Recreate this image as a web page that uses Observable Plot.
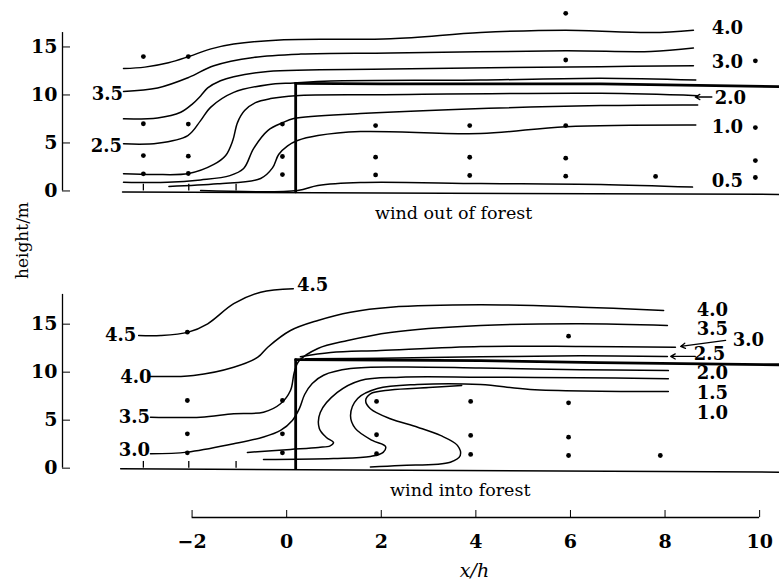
<!DOCTYPE html>
<html><head><meta charset="utf-8">
<script src="https://cdn.jsdelivr.net/npm/d3@7"></script>
<script src="https://cdn.jsdelivr.net/npm/@observablehq/plot@0.6"></script>
<style>body{margin:0;background:#fff}</style>
</head><body><div id="chart"></div>
<script>
// ---- panels, axes ----
const panels = ["out", "into"];
const panelTitles = ["wind out of forest", "wind into forest"];
const titleX = [3.53, 3.67];
const titleY = [-2.34, -2.32];
const yTicks = [0, 5, 10, 15];
const xTicks = [-2, 0, 2, 4, 6, 8, 10];
const xDomain = [-4.74, 10.42];
const yDomain = [-5.14, 19.84];
const yAxisTop = [16.5, 18.1];          // top of the y-axis line, per panel
const groundTickX = [-3.03, -2.07, -1.07];

// ---- wind out of forest: contours (x/h, height m) ----
const out40 = [[-3.45,12.75],[-3.0,12.9],[-2.5,13.35],[-2.07,14.0],[-1.6,14.8],[-1.12,15.3],[-0.06,15.75],[2.2,15.85],[4.1,16.5],[5.9,16.75],[7.7,16.5],[8.6,16.75]];
const out35 = [[-3.45,10.37],[-2.73,10.73],[-2.07,11.83],[-1.54,13.05],[-0.70,13.91],[0.30,14.26],[2.20,14.37],[5.90,14.6],[7.70,14.53],[8.60,14.89]];
const out30 = [[-3.45,7.51],[-2.73,7.61],[-2.24,8.2],[-1.99,9.07],[-1.82,9.9],[-1.67,10.73],[-1.40,11.48],[-1.12,11.9],[-0.40,12.45],[2.20,12.7],[6.64,12.95],[8.60,13.05]];
const out25 = [[-3.45,4.91],[-2.73,4.97],[-2.09,5.77],[-1.82,7.33],[-1.61,8.71],[-1.12,10.27],[-0.40,11.07],[0.15,11.25],[0.93,11.45],[4.10,11.55],[6.64,11.75],[8.65,11.56]];
const out20 = [[-3.45,1.79],[-2.81,1.72],[-2.07,1.82],[-1.54,2.76],[-1.29,3.69],[-1.14,5.25],[-1.04,7.12],[-0.89,8.37],[-0.66,9.20],[-0.34,9.62],[0.19,9.93],[1.99,10.03],[6.64,10.17],[8.69,9.93]];
const out15 = [[-3.45,0.91],[-2.52,0.9],[-1.82,1.15],[-1.2,1.6],[-0.91,2.34],[-0.70,4.42],[-0.40,6.29],[-0.08,7.12],[0.15,7.54],[1.56,8.06],[6.64,8.89],[8.69,8.96]];
const out10 = [[-2.49,0.47],[-1.46,0.75],[-0.55,1.3],[-0.30,2.4],[-0.17,3.8],[0.02,4.7],[0.23,5.25],[0.66,5.77],[1.56,6.19],[4.10,5.98],[5.90,6.70],[8.65,6.88]];
const out05 = [[-1.82,0.05],[0.23,0.05],[0.66,0.57],[1.56,0.88],[4.10,0.78],[6.64,0.68],[8.58,0.40]];

// ---- wind into forest: contours ----
const in45 = [[-3.13,13.82],[-2.66,13.82],[-2.08,14.17],[-1.67,15.04],[-1.12,17.13],[-0.55,18.33],[0.14,18.69]];
const in40 = [[-2.88,9.55],[-1.97,9.66],[-1.12,10.52],[-0.61,11.56],[-0.40,12.60],[0.08,14.34],[0.66,15.39],[1.35,16.25],[2.20,16.77],[4.10,17.02],[6.22,16.77],[7.97,16.43]];
const in35 = [[-2.88,5.31],[-1.82,5.31],[-1.12,5.67],[-0.49,5.83],[-0.13,6.71],[0.08,8.09],[0.16,9.97],[0.25,11.11],[0.66,12.47],[1.29,13.30],[2.19,14.14],[4.10,14.86],[6.21,15.04],[8.05,14.86]];
const in30 = [[-2.88,1.50],[-2.10,1.67],[-1.12,2.54],[-0.49,3.24],[-0.13,3.93],[0.12,4.97],[0.27,6.22],[0.38,7.67],[0.54,8.82],[0.78,9.68],[1.35,10.37],[2.41,10.54],[4.10,10.43],[6.21,10.26],[8.07,10.16]];
const in30b = [[0.29,11.6],[0.93,12.05],[1.98,12.26],[4.10,12.68],[6.21,12.68],[8.22,12.60]];
const in25 = [[0.40,11.4],[1.98,11.45],[4.10,11.6],[6.21,11.7],[8.05,11.64]];
const in15 = [[-0.83,1.64],[0.08,1.95],[0.67,2.16],[0.92,2.32],[0.99,2.68],[0.84,3.20],[0.69,4.14],[0.71,5.80],[1.07,7.89],[1.56,9.14],[2.41,9.48],[4.10,9.48],[6.21,9.42],[8.07,9.31]];
const in10 = [[-0.49,0.91],[0.99,1.01],[1.77,1.22],[2.04,1.64],[2.09,2.26],[1.81,2.89],[1.45,4.14],[1.35,5.49],[1.50,7.26],[1.92,8.30],[2.76,8.72],[4.10,8.72],[5.15,8.20],[8.07,7.99]];
const in05 = [[1.77,0.13],[2.41,0.28],[3.46,0.62],[3.67,1.32],[3.61,2.37],[3.25,3.41],[2.77,4.27],[2.19,5.15],[1.77,6.19],[1.67,7.05],[1.77,7.75],[2.19,8.15],[3.0,8.4],[3.7,8.6]];

// ---- ground, forest edge, canopy ----
const outGround = [[-3.47,-0.12],[10.42,-0.36]];
const inGround = [[-3.51,-0.06],[10.42,-0.42]];
const outEdge = [[0.19,-0.1],[0.19,11.2]];
const inEdge = [[0.19,-0.05],[0.19,11.3]];
const outCanopy = [[0.19,11.2],[2.0,11.15],[6.64,11.15],[10.42,10.86]];
const inCanopy = [[0.19,11.3],[4.1,11.2],[6.6,11.0],[10.42,10.77]];

// ---- measurement points ----
const outDots = [[-3.03,14.0],[-3.03,7.0],[-3.03,3.69],[-3.03,1.79],[-2.08,14.0],[-2.08,6.97],[-2.08,3.62],[-2.08,1.82],[-0.09,6.97],[-0.09,3.59],[-0.09,1.71],[1.88,6.81],[1.88,3.52],[1.88,1.67],[3.87,6.81],[3.87,3.51],[3.87,1.61],[5.90,18.5],[5.90,13.64],[5.90,6.81],[5.90,3.41],[5.90,1.54],[7.80,1.51],[9.91,13.56],[9.91,6.60],[9.91,3.17],[9.91,1.40]];
const inDots = [[-2.10,14.17],[-2.10,7.05],[-2.10,3.58],[-2.10,1.60],[-0.09,7.05],[-0.09,3.58],[-0.09,1.60],[1.90,6.95],[1.90,3.48],[1.90,1.50],[3.89,6.95],[3.89,3.41],[3.89,1.43],[5.96,13.75],[5.96,6.81],[5.96,3.23],[5.96,1.32],[7.90,1.32]];

// ---- contour labels [text, x, y] ----
const outLabels = [["3.5",-3.79,10.05],["2.5",-3.81,4.64],["4.0",9.32,16.93],["3.0",9.32,13.39],["2.0",9.38,9.64],["1.0",9.32,6.61],["0.5",9.32,0.99]];
const inLabels = [["4.5",0.55,19.03],["4.5",-3.51,13.82],["4.0",-3.19,9.45],["3.5",-3.22,5.31],["3.0",-3.22,1.84],["4.0",9.0,16.43],["3.5",9.0,14.45],["3.0",9.76,13.30],["2.5",8.94,11.84],["2.0",9.0,9.86],["1.5",9.0,7.78],["1.0",9.0,5.70]];
// arrows [x1,y1,x2,y2]
const outArrows = [[8.99,9.79,8.64,9.79]];
const inArrows = [[9.28,13.30,8.33,12.68],[8.64,11.64,8.12,11.64]];
const yLabelPos = [-5.59, -5.16];   // "height/m", in top panel coordinates
const xLabelPos = [3.97, -10.66];   // "x/h", in bottom panel coordinates

// ---- build tables ----
const contourList = [
  ["out", out40], ["out", out35], ["out", out30], ["out", out25], ["out", out20], ["out", out15], ["out", out10], ["out", out05],
  ["into", in45], ["into", in40], ["into", in35], ["into", in30], ["into", in30b], ["into", in25], ["into", in15], ["into", in10], ["into", in05]
];
const toRows = (list) => list.flatMap(([panel, pts], id) => pts.map(([x, y]) => ({panel, id, x, y})));
const contourRows = toRows(contourList);
const groundRows = toRows([["out", outGround], ["into", inGround]]);
const forestRows = toRows([["out", outEdge], ["out", outCanopy], ["into", inEdge], ["into", inCanopy]]);
const dotRows = [...outDots.map(([x, y]) => ({panel: "out", x, y})), ...inDots.map(([x, y]) => ({panel: "into", x, y}))];
const labelRows = [...outLabels.map(([t, x, y]) => ({panel: "out", t, x, y})), ...inLabels.map(([t, x, y]) => ({panel: "into", t, x, y}))];
const arrowRows = [...outArrows.map(([x1, y1, x2, y2]) => ({panel: "out", x1, y1, x2, y2})), ...inArrows.map(([x1, y1, x2, y2]) => ({panel: "into", x1, y1, x2, y2}))];
const tickRows = panels.flatMap(panel => groundTickX.map(x => ({panel, x})));
const titleRows = panels.map((panel, i) => ({panel, t: panelTitles[i], x: titleX[i], y: titleY[i]}));
const yAxisRows = panels.map((panel, i) => ({panel, top: yAxisTop[i]}));

const numFont = {fontFamily: "DejaVu Serif", fontWeight: "bold", fontSize: 18};
const axisFont = {fontFamily: "DejaVu Serif", fontWeight: "bold", fontSize: 19};

const chart = Plot.plot({
  width: 779, height: 582,
  marginLeft: 62, marginRight: 0, marginTop: 0, marginBottom: 65,
  x: {domain: xDomain},
  y: {domain: yDomain},
  fy: {domain: panels, axis: null, paddingInner: 0.1349, paddingOuter: 0, round: false},
  style: {fontFamily: "DejaVu Serif", background: "white", color: "black", overflow: "visible"},
  marks: [
    Plot.line(groundRows, {x: "x", y: "y", z: "id", fy: "panel", strokeWidth: 1.5}),
    Plot.ruleX(tickRows, {x: "x", y1: 0, y2: 0.7, fy: "panel", strokeWidth: 1.3}),
    Plot.line(contourRows, {x: "x", y: "y", z: "id", fy: "panel", curve: "catmull-rom", strokeWidth: 1.5}),
    Plot.line(forestRows, {x: "x", y: "y", z: "id", fy: "panel", strokeWidth: 2.8}),
    Plot.dot(dotRows, {x: "x", y: "y", fy: "panel", r: 2.4, fill: "black", stroke: null}),
    Plot.text(labelRows, {x: "x", y: "y", fy: "panel", text: "t", ...numFont}),
    Plot.arrow(arrowRows, {x1: "x1", y1: "y1", x2: "x2", y2: "y2", fy: "panel", strokeWidth: 1.3, headLength: 6}),
    Plot.text(titleRows, {x: "x", y: "y", fy: "panel", text: "t", fontSize: 17.5}),
    Plot.ruleX(yAxisRows, {x: xDomain[0], y1: 0, y2: "top", fy: "panel", strokeWidth: 1.3}),
    Plot.axisY(yTicks, {anchor: "left", tickSize: -8, tickPadding: 13, label: null, ...axisFont}),
    Plot.ruleY(["into"], {fy: d => d, y: yDomain[0], x1: xTicks[0], x2: xTicks[xTicks.length - 1], strokeWidth: 1.3}),
    Plot.axisX(xTicks, {anchor: "bottom", tickSize: -7, tickPadding: 24, label: null, ...axisFont}),
    Plot.text(["height/m"], {fy: () => "out", x: yLabelPos[0], y: yLabelPos[1], rotate: -90, fontSize: 17}),
    Plot.text(["x/h"], {fy: () => "into", x: xLabelPos[0], y: xLabelPos[1], fontStyle: "italic", fontSize: 19})
  ]
});
document.getElementById("chart").append(chart);
</script>
</body></html>
